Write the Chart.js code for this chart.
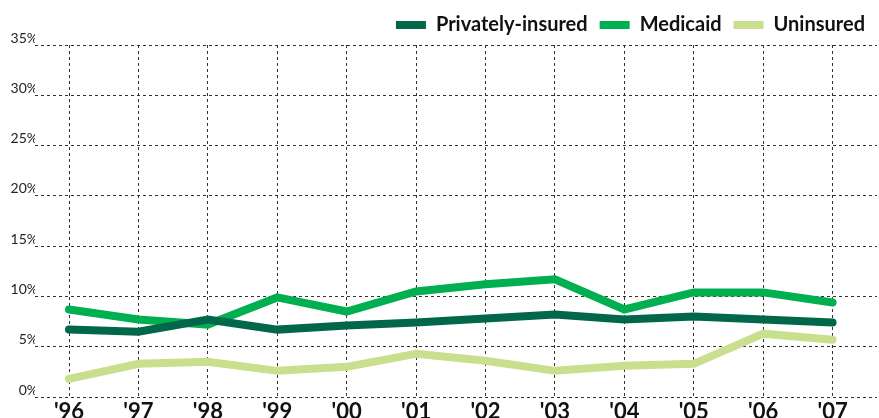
<!DOCTYPE html>
<html>
<head>
<meta charset="utf-8">
<script src="https://cdn.jsdelivr.net/npm/chart.js@4/dist/chart.umd.min.js"></script>
<style>
  html, body { margin: 0; padding: 0; background: #fff; }
  #wrap { width: 879px; height: 418px; }
</style>
</head>
<body>
<div id="wrap"><canvas id="insChart"></canvas></div>
<script>
// years on the x axis
const years = ["'96", "'97", "'98", "'99", "'00", "'01", "'02", "'03", "'04", "'05", "'06", "'07"];
// percent values
const privatelyInsured = [6.7, 6.5, 7.7, 6.7, 7.1, 7.4, 7.8, 8.2, 7.7, 8.0, 7.7, 7.4];
const medicaid = [8.7, 7.7, 7.2, 9.9, 8.5, 10.5, 11.2, 11.7, 8.7, 10.4, 10.4, 9.4];
const uninsured = [1.8, 3.3, 3.5, 2.6, 3.0, 4.3, 3.6, 2.6, 3.1, 3.3, 6.3, 5.7];
const yTicks = [0, 5, 10, 15, 20, 25, 30, 35];

const seriesNames = ['Privately-insured', 'Medicaid', 'Uninsured'];
const seriesColors = ['#00674a', '#00b050', '#c8e08e'];

function toPoints(arr) {
    return arr.map((v, i) => ({ x: i, y: v }));
}

const gridStyle = {
    color: '#333',
    lineWidth: 1,
    drawTicks: false
};

let ctx = document.getElementById('insChart').getContext('2d');
let insChart = new Chart(ctx, {
    type: 'line',
    data: {
        datasets: [privatelyInsured, medicaid, uninsured].map((arr, i) => ({
            label: seriesNames[i],
            data: toPoints(arr),
            borderColor: seriesColors[i],
            backgroundColor: seriesColors[i],
            borderWidth: 8,
            borderCapStyle: 'round',
            pointRadius: 0,
            tension: 0,
            clip: false
        }))
    },
    options: {
        responsive: true,
        maintainAspectRatio: false,
        animation: false,
        layout: { padding: { left: 0, right: 2, top: 3, bottom: 0 } },
        plugins: {
            tooltip: { enabled: false },
            legend: {
                position: 'top',
                align: 'end',
                labels: {
                    boxWidth: 30,
                    boxHeight: 8,
                    useBorderRadius: true,
                    borderRadius: 4,
                    padding: 12,
                    color: '#111',
                    font: { family: 'Lato', size: 20, weight: 'bold' },
                    generateLabels: (chart) => chart.data.datasets.map((ds, i) => ({
                        text: ds.label,
                        fillStyle: ds.borderColor,
                        strokeStyle: ds.borderColor,
                        lineWidth: 0,
                        fontColor: '#111',
                        datasetIndex: i,
                        hidden: false
                    }))
                }
            }
        },
        scales: {
            x: {
                type: 'linear',
                min: -0.49,
                max: 11.64,
                afterBuildTicks: (scale) => {
                    scale.ticks = years.map((_, i) => ({ value: i }));
                },
                afterFit: (scale) => { scale.height = 21; },
                border: { display: false, dash: [3, 3] },
                grid: gridStyle,
                ticks: {
                    padding: 2,
                    autoSkip: false,
                    maxRotation: 0,
                    color: '#111',
                    font: { family: 'Lato', size: 22, weight: 'bold' },
                    callback: (v) => years[v]
                }
            },
            y: {
                min: 0,
                max: 35,
                afterBuildTicks: (scale) => {
                    scale.ticks = yTicks.map(v => ({ value: v }));
                },
                afterFit: (scale) => { scale.width = 35; },
                border: { display: false, dash: [3, 3] },
                grid: gridStyle,
                ticks: {
                    padding: -3,
                    labelOffset: -7,
                    color: '#222',
                    font: { family: 'Lato', size: 14 },
                    callback: (v) => v + '%'
                }
            }
        }
    }
});
</script>
</body>
</html>
